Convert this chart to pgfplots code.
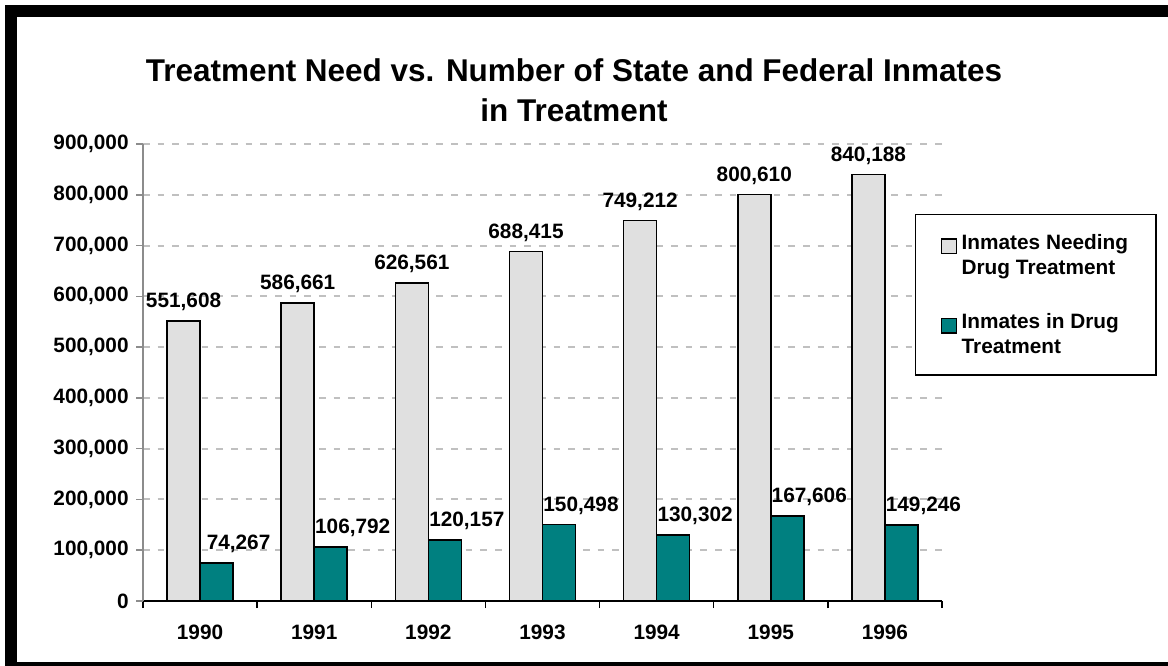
\documentclass[border=0pt]{standalone}
\usepackage{pgfplots}
\pgfplotsset{compat=1.18}
\usepackage{fontspec}
\setmainfont{Liberation Sans}
\definecolor{lightbar}{RGB}{224,224,224}
\definecolor{tealbar}{RGB}{0,128,128}
\definecolor{gridgray}{RGB}{192,192,192}
\definecolor{axgray}{RGB}{140,140,140}
\newcommand\lbl{\fontsize{15.6}{18.75}\selectfont\bfseries}
\begin{document}
\begin{tikzpicture}
\useasboundingbox (0,0) rectangle (876pt,-499.5pt);
\fill[white] (0,0) rectangle (876pt,-499.5pt);
\fill[black] (5*0.75pt,-5*0.75pt) rectangle (876pt,-17*0.75pt);
\fill[black] (5*0.75pt,-5*0.75pt) rectangle (17*0.75pt,-499.5pt);
\fill[black] (5*0.75pt,-662*0.75pt) rectangle (876pt,-499.5pt);
\node[font=\fontsize{23.6}{30}\selectfont\bfseries, align=center] at (574*0.75pt,-90*0.75pt)
  {Treatment Need vs. Number of State and Federal Inmates\\in Treatment};
\begin{axis}[
  at={(143*0.75pt,-601*0.75pt)}, anchor=south west,
  scale only axis, width=599.25pt, height=342.75pt,
  xmin=-0.5, xmax=6.5, ymin=0, ymax=900000,
  ybar=0pt, bar width=24.75pt,
  ytick={0,100000,...,900000},
  scaled y ticks=false,
  xtick={0,...,6}, xticklabels={1990,1991,1992,1993,1994,1995,1996},
  major x tick style={draw=none},
  minor xtick={-0.5,0.5,...,6.5},
  minor x tick style={black, line width=1.1pt},
  major y tick style={axgray, line width=1.1pt},
  tick align=outside,
  major tick length=5.25pt, minor tick length=5.25pt,
  axis x line*=bottom, axis y line*=left,
  x axis line style={black, line width=1.5pt, -},
  y axis line style={axgray, line width=1.5pt, -},
  ymajorgrids,
  major grid style={gridgray, line width=1.5pt, dash pattern=on 5pt off 6pt},
  tick label style={font=\lbl},
  yticklabel style={xshift=-2pt, /pgf/number format/fixed, /pgf/number format/1000 sep={,}, /pgf/number format/assume math mode=true},
  xticklabel style={yshift=-9pt},
  legend style={at={(0.966,0.847)}, anchor=north west, draw=black, line width=1.1pt,
    font=\lbl, nodes={align=left}, inner xsep=19pt, inner ysep=12.5pt, row sep=24pt},
  legend cell align=left,
  every node near coord/.append style={font=\lbl, /pgf/number format/fixed, /pgf/number format/1000 sep={,}, /pgf/number format/assume math mode=true},
]
\addplot[fill=lightbar, draw=black, line width=1.2pt,
  nodes near coords, every node near coord/.append style={anchor=base, yshift=10pt},
  legend image code/.code={\path[draw=none, fill=none] (0pt,-3pt) rectangle (13pt,-2pt);
    \draw[fill=lightbar, draw=black, line width=1.1pt] (0pt,1pt) rectangle (11pt,12pt);}]
  coordinates {(0,551608) (1,586661) (2,626561) (3,688415) (4,749212) (5,800610) (6,840188)};
\addlegendentry{Inmates Needing\\Drug Treatment}
\addplot[fill=tealbar, draw=black, line width=1.2pt,
  nodes near coords, every node near coord/.append style={anchor=base, xshift=16.5pt, yshift=10pt},
  legend image code/.code={\path[draw=none, fill=none] (0pt,-3pt) rectangle (13pt,-2pt);
    \draw[fill=tealbar, draw=black, line width=1.1pt] (0pt,1pt) rectangle (11pt,12pt);}]
  coordinates {(0,74267) (1,106792) (2,120157) (3,150498) (4,130302) (5,167606) (6,149246)};
\addlegendentry{Inmates in Drug\\Treatment}
\end{axis}
\end{tikzpicture}
\end{document}
